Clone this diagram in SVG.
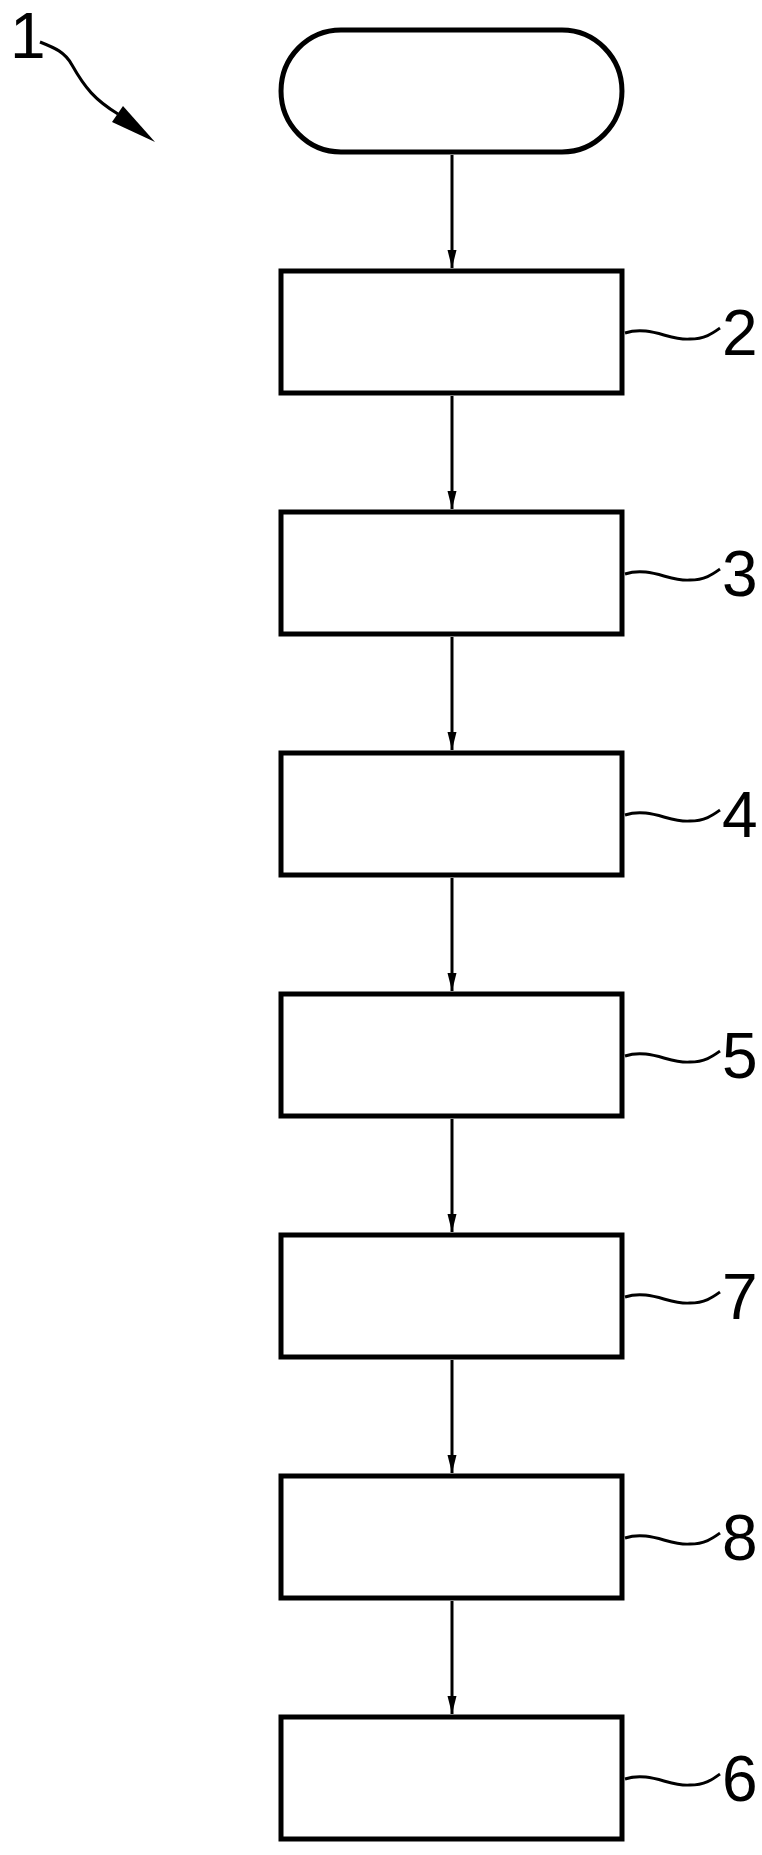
<svg xmlns="http://www.w3.org/2000/svg" width="762" height="1855" viewBox="0 0 762 1855">
<style>
.n{fill:#fff;stroke:#000;stroke-width:5}
.c{fill:none;stroke:#000;stroke-width:3}
.t{font-family:"Liberation Sans Narrow","Liberation Sans",sans-serif;font-size:64px;fill:#000}
</style>
<defs>
<marker id="a" markerUnits="userSpaceOnUse" markerWidth="18" markerHeight="34" refX="32" refY="8" orient="auto" viewBox="0 0 32 16">
<path d="M0,0 L32,8 L0,16 Z" fill="#000"/>
</marker>
<path id="sq" class="c" d="M0,0 C25,-8 45,8 65,6 C80,6 88,0 95,-5"/>
</defs>
<rect width="762" height="1855" fill="#fff"/>
<g id="ref1">
<text class="t" x="10" y="58">1</text>
<path class="c" d="M40,42 C55,48 65,52 72,65 C85,88 95,100 118,114"/>
<polygon points="112,122 123,106 155,142"/>
</g>
<g id="start"><path class="n" d="M341,30 H562 A60,61 0 0 1 562,152 H341 A60,61 0 0 1 341,30 Z"/></g>
<g id="n2"><rect class="n" x="281" y="271" width="341" height="122"/><use href="#sq" x="625" y="333"/><text class="t" x="722" y="355">2</text></g>
<g id="n3"><rect class="n" x="281" y="512" width="341" height="122"/><use href="#sq" x="625" y="574"/><text class="t" x="722" y="596">3</text></g>
<g id="n4"><rect class="n" x="281" y="753" width="341" height="122"/><use href="#sq" x="625" y="815"/><text class="t" x="722" y="837">4</text></g>
<g id="n5"><rect class="n" x="281" y="994" width="341" height="122"/><use href="#sq" x="625" y="1056"/><text class="t" x="722" y="1078">5</text></g>
<g id="n7"><rect class="n" x="281" y="1235" width="341" height="122"/><use href="#sq" x="625" y="1297"/><text class="t" x="722" y="1319">7</text></g>
<g id="n8"><rect class="n" x="281" y="1476" width="341" height="122"/><use href="#sq" x="625" y="1538"/><text class="t" x="722" y="1560">8</text></g>
<g id="n6"><rect class="n" x="281" y="1717" width="341" height="122"/><use href="#sq" x="625" y="1779"/><text class="t" x="722" y="1801">6</text></g>
<g id="connectors" class="c" marker-end="url(#a)">
<line x1="452" y1="155" x2="452" y2="268"/>
<line x1="452" y1="396" x2="452" y2="509"/>
<line x1="452" y1="637" x2="452" y2="750"/>
<line x1="452" y1="878" x2="452" y2="991"/>
<line x1="452" y1="1119" x2="452" y2="1232"/>
<line x1="452" y1="1360" x2="452" y2="1473"/>
<line x1="452" y1="1601" x2="452" y2="1714"/>
</g>
</svg>
